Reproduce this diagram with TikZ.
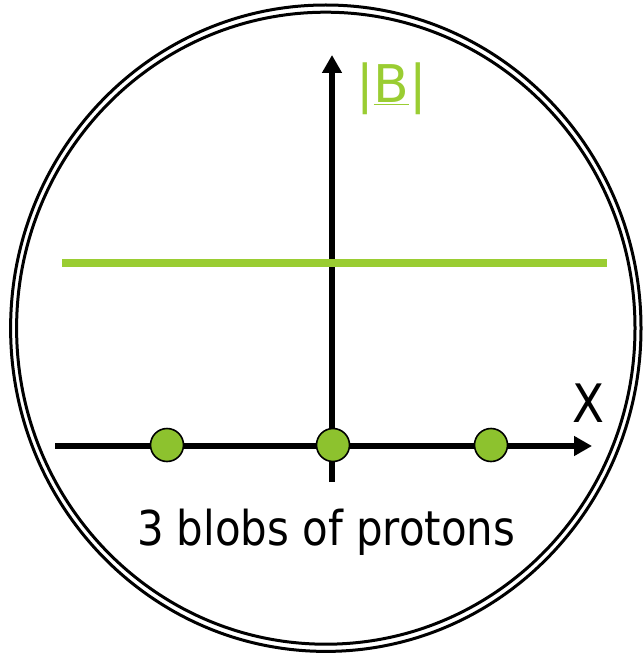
\documentclass[tikz,border=0pt]{standalone}
\usepackage{fontspec}
\setmainfont{DejaVu Sans}
\usetikzlibrary{arrows.meta}
\definecolor{lgreen}{HTML}{9ACD32}
\definecolor{bgreen}{HTML}{8DC22E}
\tikzset{
  axis/.style={line width=6pt,-{Triangle[length=18pt,width=19pt]}},
  blob/.style={circle,draw=black,line width=1.6pt,fill=bgreen,minimum size=33pt,inner sep=0pt},
  rim/.style={line width=3pt},
  lbl/.style={inner sep=0pt,outer sep=0pt}
}
\begin{document}
\begin{tikzpicture}[x=1pt,y=-1pt]
\useasboundingbox (0,0) rectangle (643,655);
% double outer circle
\coordinate (c) at (325.8,328.2);
\draw[rim] (c) ellipse [x radius=315.2, y radius=323.2];
\draw[rim] (c) ellipse [x radius=309.2, y radius=316];
% axes
\coordinate (yb) at (332,482);
\coordinate (yt) at (332,55);
\coordinate (xl) at (55,446);
\coordinate (xr) at (592,446);
\draw[axis] (yb) -- (yt);
\draw[axis] (xl) -- (xr);
% green level line
\coordinate (gl) at (62,263);
\coordinate (gr) at (606.5,263);
\draw[lgreen,line width=8pt] (gl) -- (gr);
% blobs
\node[blob] (b1) at (167,445) {};
\node[blob] (b2) at (333,445) {};
\node[blob] (b3) at (491,445) {};
% labels
\node[lbl,anchor=base west,text=lgreen,font=\fontsize{52}{60}\selectfont] (B) at (356,103) {|\underline{B}|};
\node[lbl,anchor=base west,xscale=0.88,font=\fontsize{53}{60}\selectfont] (X) at (572,422) {X};
\node[lbl,anchor=base west,xscale=0.873,font=\fontsize{48}{56}\selectfont] (t) at (137,545) {3 blobs of protons};
\end{tikzpicture}
\end{document}
